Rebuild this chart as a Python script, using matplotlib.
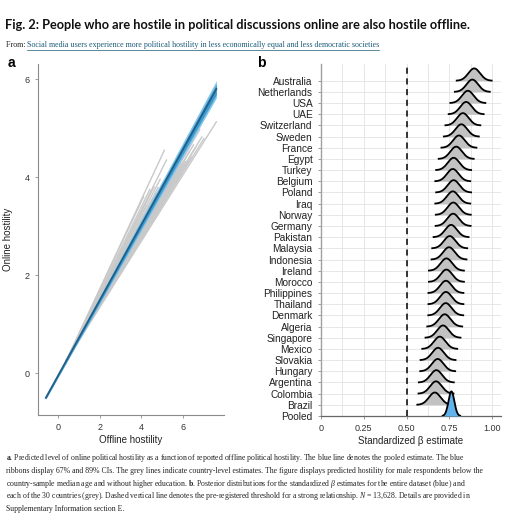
import numpy as np
import matplotlib
matplotlib.use("Agg")
import matplotlib.pyplot as plt
from matplotlib.lines import Line2D

plt.rcParams["font.family"] = ["Liberation Sans", "DejaVu Sans"]
plt.rcParams["mathtext.fontset"] = "custom"
plt.rcParams["mathtext.rm"] = "Liberation Serif"
plt.rcParams["mathtext.it"] = "Liberation Serif:italic"
plt.rcParams["mathtext.bf"] = "Liberation Serif:bold"

# ---- panel a data ----
pooled_x = [-0.6, 7.6]
pooled_y = [-0.5, 5.8]
ci89_lo = [-0.53, 5.62]
ci89_hi = [-0.47, 5.97]
ci67_lo = [-0.52, 5.69]
ci67_hi = [-0.48, 5.90]

country_x0, country_y0 = 0.4, 0.27
country_x1 = [5.1, 5.2, 7.6, 6.8, 7.0, 6.5, 6.3, 4.1, 4.25, 5.6, 5.9, 6.0, 5.4, 4.8, 5.0,
              6.2, 5.7, 4.6, 5.3, 6.6, 5.8, 4.4, 5.5, 6.1, 4.9, 5.2, 6.4, 5.6, 4.7, 6.9]
country_y1 = [4.55, 4.35, 5.13, 4.97, 4.79, 4.66, 4.52, 3.60, 3.43, 4.12, 4.29, 4.25, 4.07, 3.79, 3.86,
              4.33, 4.09, 3.80, 3.95, 4.61, 4.00, 3.75, 3.99, 4.32, 3.96, 3.63, 4.41, 3.94, 3.67, 4.82]

# ---- panel b data (top to bottom) ----
countries = ["Australia", "Netherlands", "USA", "UAE", "Switzerland", "Sweden", "France",
             "Egypt", "Turkey", "Belgium", "Poland", "Iraq", "Norway", "Germany", "Pakistan",
             "Malaysia", "Indonesia", "Ireland", "Morocco", "Philippines", "Thailand", "Denmark",
             "Algeria", "Singapore", "Mexico", "Slovakia", "Hungary", "Argentina", "Colombia",
             "Brazil", "Pooled"]
beta_mean = [0.895, 0.884, 0.858, 0.848, 0.829, 0.820, 0.806, 0.790, 0.775, 0.770, 0.775,
             0.770, 0.773, 0.772, 0.760, 0.752, 0.748, 0.733, 0.733, 0.730, 0.730, 0.729,
             0.723, 0.713, 0.694, 0.684, 0.682, 0.674, 0.672, 0.665, 0.762]
beta_sd = [0.034] * 30 + [0.017]

fig = plt.figure(figsize=(5.2, 5.2), dpi=100)

# header
fig.text(0.01, 0.945, "Fig. 2: People who are hostile in political discussions online are also hostile offline.",
         fontsize=9.2, fontweight="bold", family=["Lato", "DejaVu Sans"], color="#111111")
t_from = fig.text(0.011, 0.909, "From: ", fontsize=5.8, family=["Liberation Serif"], color="#222222")
fig.canvas.draw()
bb = t_from.get_window_extent()
x_link = bb.x1 / fig.bbox.width
t_link = fig.text(x_link, 0.909,
                  "Social media users experience more political hostility in less economically equal and less democratic societies",
                  fontsize=5.8, family=["Liberation Serif"], color="#1b5b78")
fig.canvas.draw()
lb = t_link.get_window_extent()
fig.add_artist(Line2D([lb.x0 / fig.bbox.width, lb.x1 / fig.bbox.width],
                      [(lb.y0 - 0.3) / fig.bbox.height] * 2, color="#1b5b78", lw=0.5))

fig.text(0.015, 0.872, "a", fontsize=10, fontweight="bold")
fig.text(0.495, 0.872, "b", fontsize=10, fontweight="bold")

# ---- panel a ----
ax = fig.add_axes([0.0725, 0.202, 0.358, 0.675])
for x1, y1 in zip(country_x1, country_y1):
    ax.plot([country_x0, x1], [country_y0, y1], color="#c9c9c9", lw=1.0, zorder=1)
ax.fill_between(pooled_x, ci89_lo, ci89_hi, color="#84c6ea", lw=0, zorder=2)
ax.fill_between(pooled_x, ci67_lo, ci67_hi, color="#3f9ad0", lw=0, zorder=3)
ax.plot(pooled_x, pooled_y, color="#215f86", lw=1.3, zorder=4)
ax.set_xlim(-0.99, 7.96)
ax.set_ylim(-0.85, 6.31)
ax.set_xticks([0, 2, 4, 6])
ax.set_yticks([0, 2, 4, 6])
for s in ["top", "right"]:
    ax.spines[s].set_visible(False)
for s in ["left", "bottom"]:
    ax.spines[s].set_color("#8a8a8a")
    ax.spines[s].set_linewidth(0.8)
ax.tick_params(labelsize=6.5, colors="#8a8a8a", labelcolor="#333333", length=2.5, width=0.6)
ax.set_xlabel("Offline hostility", fontsize=7, color="#222222", labelpad=2)
ax.set_ylabel("Online hostility", fontsize=7, color="#222222", labelpad=8)

# ---- panel b ----
bx = fig.add_axes([0.617, 0.2, 0.346, 0.677])
n = len(countries)
rows = [n - 1 - i for i in range(n)]
scale = 0.094
for name, mu, sd, r in zip(countries, beta_mean, beta_sd, rows):
    xs = np.linspace(mu - 3 * sd, mu + 3 * sd, 200)
    dens = np.exp(-0.5 * ((xs - mu) / sd) ** 2) / (sd * np.sqrt(2 * np.pi)) * scale
    fc = "#62b3ec" if name == "Pooled" else "#c2c2c2"
    bx.fill_between(xs, r, r + dens, color=fc, lw=0, zorder=10 + 2 * (n - r))
    bx.plot(xs, r + dens, color="black", lw=1.3, zorder=11 + 2 * (n - r))
bx.axvline(0.5, color="black", lw=1.1, ls=(0, (4, 3)), zorder=5)
bx.set_xlim(0, 1.05)
bx.set_ylim(0, 31.5)
bx.set_yticks(rows)
bx.set_yticklabels(countries)
bx.set_xticks([0, 0.25, 0.5, 0.75, 1.0])
bx.set_xticklabels(["0", "0.25", "0.50", "0.75", "1.00"])
bx.set_xticks(np.arange(0.125, 1.05, 0.25), minor=True)
bx.grid(True, which="both", axis="x", color="#e3e3e3", lw=0.6, zorder=0)
bx.grid(True, which="major", axis="y", color="#e3e3e3", lw=0.6, zorder=0)
bx.tick_params(axis="x", which="minor", length=0)
bx.tick_params(labelsize=7.3, colors="#8a8a8a", labelcolor="#222222", length=2.5, width=0.6)
bx.tick_params(axis="x", labelsize=6.5, labelcolor="#333333")
for s in ["top", "right"]:
    bx.spines[s].set_visible(False)
bx.spines["left"].set_color("#a0a0a0")
bx.spines["left"].set_linewidth(1.0)
bx.spines["bottom"].set_color("#666666")
bx.spines["bottom"].set_linewidth(0.9)
bx.set_xlabel("Standardized β estimate", fontsize=7, color="#222222", labelpad=2)

# caption
caption = [
    r"$\mathbf{a}$. Predicted level of online political hostility as a function of reported offline political hostility. The blue line denotes the pooled estimate. The blue",
    r"ribbons display 67% and 89% CIs. The grey lines indicate country-level estimates. The figure displays predicted hostility for male respondents below the",
    r"country-sample median age and without higher education. $\mathbf{b}$. Posterior distributions for the standardized $\it{\beta}$ estimates for the entire dataset (blue) and",
    r"each of the 30 countries (grey). Dashed vertical line denotes the pre-registered threshold for a strong relationship. $\it{N}$ = 13,628. Details are provided in",
    r"Supplementary Information section E.",
]
y0 = 0.115
for i, line in enumerate(caption):
    fig.text(0.011, y0 - i * 0.0245, line, fontsize=5.6, family=["Liberation Serif"], color="#222222")

fig.savefig("out.png", dpi=100)
